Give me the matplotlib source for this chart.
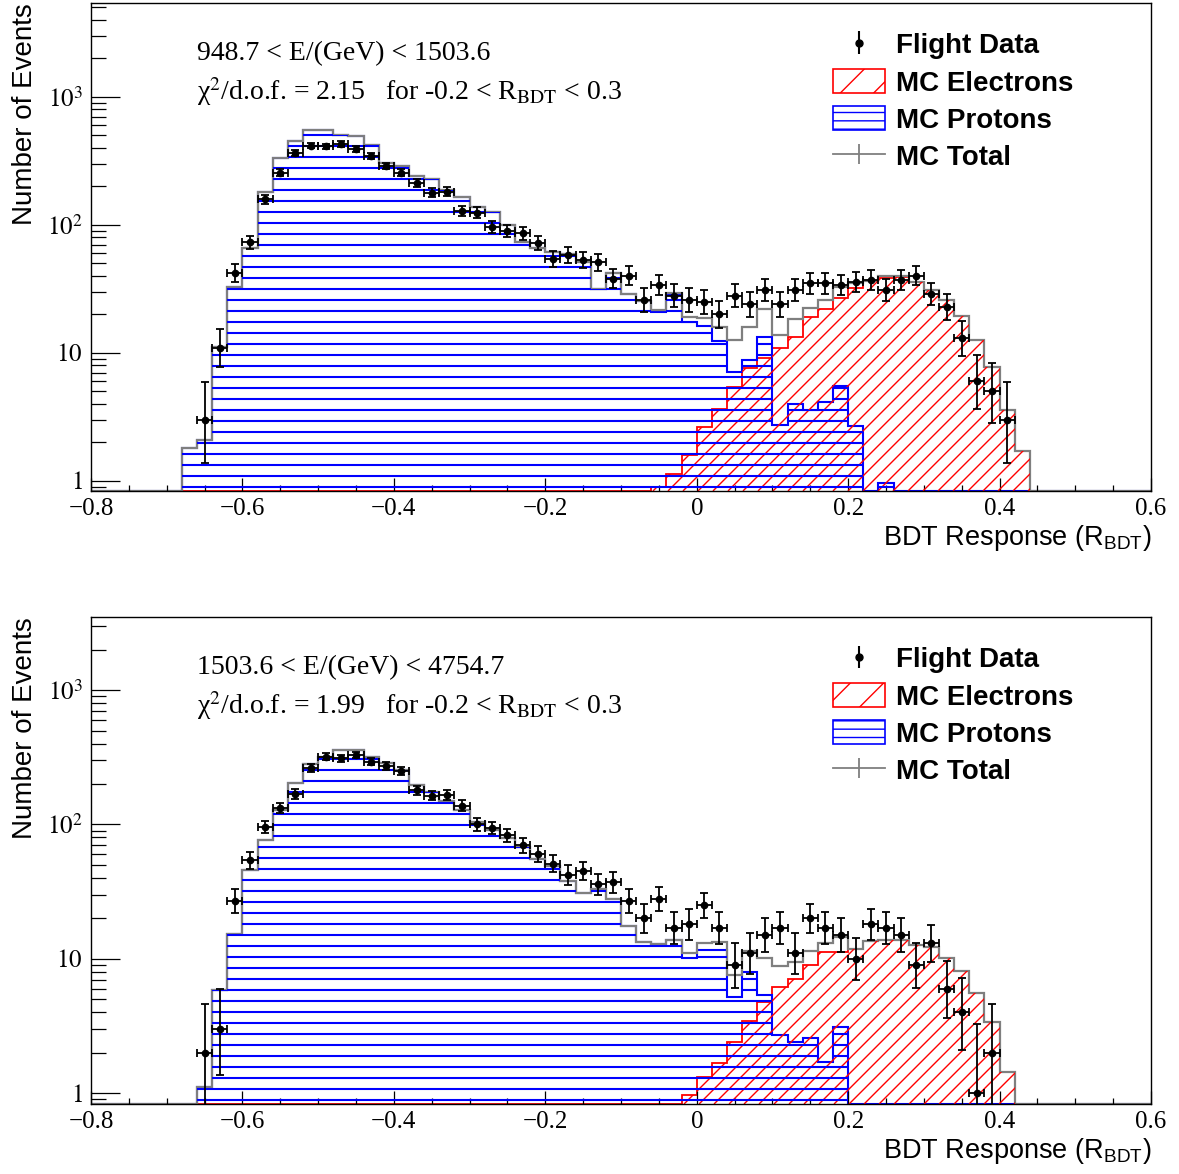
import numpy as np
import matplotlib
matplotlib.use('Agg')
import matplotlib.pyplot as plt
import matplotlib.patches as mpatches
from matplotlib.collections import LineCollection
from matplotlib.legend_handler import HandlerErrorbar
from matplotlib.ticker import FixedLocator, MultipleLocator, LogLocator, FuncFormatter, NullFormatter

plt.rcParams['font.family'] = 'Liberation Sans'
plt.rcParams['mathtext.fontset'] = 'stix'
plt.rcParams['mathtext.rm'] = 'Liberation Sans'
plt.rcParams['mathtext.it'] = 'Liberation Sans:italic'
plt.rcParams['mathtext.bf'] = 'Liberation Sans:bold'

# 70 bins of width 0.02 from -0.8 to 0.6
edges = np.linspace(-0.8, 0.6, 71)
centers = 0.5 * (edges[1:] + edges[:-1])

### top panel: 948.7 < E < 1503.6 GeV
top_total = [0, 0, 0, 0, 0, 0, 1.8, 2.1, 11.2, 33,
             66, 182, 335, 456, 548, 555, 505, 495, 422, 303,
             289, 241, 228, 188, 164, 139, 126, 100, 74, 66,
             61, 59, 51, 31.6, 42, 28.7, 25.6, 21.7, 29.3, 19.0,
             18.7, 15.9, 12.6, 15.9, 22.2, 13.8, 18.5, 22.4, 26, 32.9,
             34.9, 36.5, 40, 40, 35.5, 31.1, 26, 19.5, 12.6, 7.8,
             3.6, 1.72, 0, 0, 0, 0, 0, 0, 0, 0]
top_protons = [0, 0, 0, 0, 0, 0, 1.8, 2.1, 11.2, 33,
               66, 182, 335, 456, 548, 555, 505, 495, 422, 303,
               289, 241, 228, 188, 164, 139, 126, 100, 74, 66,
               61, 59, 51, 31.6, 42, 28.7, 25.6, 20.8, 28.2, 17.4,
               16.1, 12.3, 7.1, 8.8, 13.2, 2.74, 4.0, 3.6, 4.1, 5.5,
               2.7, 0, 0.96, 0, 0, 0, 0, 0, 0, 0,
               0, 0, 0, 0, 0, 0, 0, 0, 0, 0]
top_electrons = [0, 0, 0, 0, 0, 0, 0, 0, 0, 0,
                 0, 0, 0, 0, 0, 0, 0, 0, 0, 0,
                 0, 0, 0, 0, 0, 0, 0, 0, 0, 0,
                 0, 0, 0, 0, 0, 0, 0, 0.89, 1.13, 1.6,
                 2.63, 3.63, 5.46, 7.6, 9.1, 10.9, 13.4, 19.0, 22, 26.7,
                 32, 36.5, 38.3, 39.5, 35.5, 31.1, 26, 19.5, 12.6, 7.8,
                 3.6, 1.72, 0, 0, 0, 0, 0, 0, 0, 0]
top_data = [0, 0, 0, 0, 0, 0, 0, 3, 11, 42,
            73, 159, 256, 367, 417, 410, 427, 392, 346, 289,
            256, 214, 179, 182, 129, 125, 97, 90, 86, 72,
            54, 58, 53, 51, 38, 40, 26, 34, 28, 26,
            25, 20, 28, 24, 31, 24, 31, 35, 35, 34,
            36, 37, 31, 37, 40, 29, 23, 13, 6, 5,
            3, 0, 0, 0, 0, 0, 0, 0, 0, 0]

### bottom panel: 1503.6 < E < 4754.7 GeV
bot_total = [0, 0, 0, 0, 0, 0, 0, 1.11, 5.85, 15.3,
             45.8, 76.5, 128, 205, 282, 319, 358, 358, 319, 285,
             254, 196, 175, 150, 129, 105, 91, 79, 68, 55,
             49, 38, 30.7, 33, 27.7, 17.4, 13.3, 12.9, 13.8, 11.1,
             13.0, 13.3, 7.6, 11.4, 10.2, 8.8, 9.5, 11.5, 13.0, 14.4,
             11.9, 13.6, 13.9, 13.9, 12.7, 12.3, 10.1, 8.13, 5.53, 3.39,
             1.44, 0, 0, 0, 0, 0, 0, 0, 0, 0]
bot_protons = [0, 0, 0, 0, 0, 0, 0, 1.11, 5.85, 15.3,
               45.8, 76.5, 128, 205, 282, 319, 358, 358, 319, 285,
               254, 196, 175, 150, 129, 105, 91, 79, 68, 55,
               49, 38, 30.7, 33, 27.7, 17.4, 13.3, 12.8, 13.8, 10.1,
               11.7, 11.6, 5.2, 8.0, 5.4, 2.7, 2.4, 2.55, 1.71, 3.08,
               0, 0, 0, 0, 0, 0, 0, 0, 0, 0,
               0, 0, 0, 0, 0, 0, 0, 0, 0, 0]
bot_electrons = [0, 0, 0, 0, 0, 0, 0, 0, 0, 0,
                 0, 0, 0, 0, 0, 0, 0, 0, 0, 0,
                 0, 0, 0, 0, 0, 0, 0, 0, 0, 0,
                 0, 0, 0, 0, 0, 0, 0, 0, 0, 0.97,
                 1.32, 1.66, 2.4, 3.45, 4.79, 6.13, 7.03, 8.97, 11.3, 11.3,
                 11.9, 13.6, 13.9, 13.9, 12.7, 12.3, 10.1, 8.13, 5.53, 3.39,
                 1.44, 0, 0, 0, 0, 0, 0, 0, 0, 0]
bot_data = [0, 0, 0, 0, 0, 0, 0, 2, 3, 27,
            54, 96, 133, 168, 264, 319, 311, 329, 293, 272,
            251, 180, 164, 166, 138, 100, 94, 83, 70, 60,
            51, 42, 45, 36, 37, 27, 20, 28, 17, 18,
            25, 17, 9, 11, 15, 17, 11, 20, 17, 15,
            10, 18, 17, 15, 9, 13, 6, 4, 1, 2,
            0, 0, 0, 0, 0, 0, 0, 0, 0, 0]

energy_labels = ['948.7 < E/(GeV) < 1503.6', '1503.6 < E/(GeV) < 4754.7']
chi2_values = ['2.15', '1.99']
ylims = [(0.835, 5420), (0.828, 3500)]


def gehrels(n):
    n = np.asarray(n, float)
    lo = n - n * (1 - 1 / (9 * n) - 1 / (3 * np.sqrt(n))) ** 3
    hi = (n + 1) * (1 - 1 / (9 * (n + 1)) + 1 / (3 * np.sqrt(n + 1))) ** 3 - n
    return lo, hi


fig = plt.figure(figsize=(11.79, 11.74), dpi=100)
ax_top = fig.add_axes([0.0772, 0.5818, 0.8991, 0.4157])
ax_bot = fig.add_axes([0.0772, 0.0596, 0.8991, 0.4148])

red = '#ff0000'
blue = '#0000ff'
grey = '#7f7f7f'


def hist_patch(ax, vals, ymin, color, lw):
    v = np.asarray(vals, float)
    v = np.where(v > 0, v, ymin)
    return ax.stairs(v, edges, baseline=1e-4, fill=True, facecolor='none',
                     edgecolor=color, lw=lw)


def add_hatch(ax, patch, kind, color, lw):
    bb = ax.get_position()
    W = bb.width * fig.get_figwidth() * fig.dpi
    H = bb.height * fig.get_figheight() * fig.dpi
    if kind == 'h':
        segs = [[(0, y), (1, y)] for y in np.arange(4 / H, 1, 11 / H)]
    else:
        r = H / W
        segs = [[(x0, 0), (x0 + r, 1)] for x0 in np.arange(-r, 1, 15 / W)]
    lc = LineCollection(segs, colors=color, linewidths=lw, transform=ax.transAxes)
    lc.set_clip_path(patch)
    ax.add_collection(lc)


panels = [(ax_top, top_total, top_protons, top_electrons, top_data),
          (ax_bot, bot_total, bot_protons, bot_electrons, bot_data)]

for i, (ax, tot, pro, ele, dat) in enumerate(panels):
    ymin, ymax = ylims[i]
    ax.set_yscale('log')
    ax.set_xlim(-0.8, 0.6)
    ax.set_ylim(ymin, ymax)

    pe = hist_patch(ax, ele, ymin, red, 1.3)
    add_hatch(ax, pe, 'd', red, 1.0)
    pp = hist_patch(ax, pro, ymin, blue, 1.5)
    add_hatch(ax, pp, 'h', blue, 1.5)
    t = np.asarray(tot, float)
    ax.stairs(np.where(t > 0, t, ymin), edges, baseline=None, color=grey, lw=1.6)

    d = np.asarray(dat, float)
    m = d > 0
    lo, hi = gehrels(d[m])
    ax.errorbar(centers[m], d[m], xerr=0.01, yerr=[lo, hi], fmt='o', color='k',
                ms=4.5, lw=1.3, capsize=2.6, capthick=1.3, zorder=5)

    # legend handles
    h_data = ax.errorbar([], [], yerr=[], fmt='o', color='k', ms=5, lw=1.5)
    h_el = mpatches.Patch(facecolor='white', edgecolor=red, hatch='/', lw=1.2)
    h_pr = mpatches.Patch(facecolor='white', edgecolor=blue, hatch='--', lw=1.2)
    h_tot = ax.errorbar([], [], yerr=[], fmt='-', color=grey, lw=1.3)
    ax.legend([h_data, h_el, h_pr, h_tot],
              ['Flight Data', 'MC Electrons', 'MC Protons', 'MC Total'],
              handler_map={h_data: HandlerErrorbar(yerr_size=0.4),
                           h_tot: HandlerErrorbar(yerr_size=0.36)},
              loc='upper left', bbox_to_anchor=(0.700, 0.941), frameon=False,
              prop={'family': 'Liberation Sans', 'weight': 'bold', 'size': 20},
              handlelength=1.87, handleheight=0.97, handletextpad=0.4,
              labelspacing=0.34, borderpad=0, borderaxespad=0)

    ax.text(0.100, 0.883, energy_labels[i], transform=ax.transAxes,
            family='Liberation Serif', fontsize=20, va='baseline')
    ax.text(0.100, 0.801,
            '\u03c7' + r'$^{2}$/d.o.f. = ' + chi2_values[i] + r'   for -0.2 < R$_{\mathrm{BDT}}$ < 0.3',
            transform=ax.transAxes, family='Liberation Serif', fontsize=20,
            va='baseline')

    ax.text(-0.062, 1.0, 'Number of Events', transform=ax.transAxes,
            rotation=90, ha='center', va='top', fontsize=20)
    ax.text(1.0, -0.065, r'BDT Response (R$_{\mathrm{BDT}}$)', transform=ax.transAxes,
            ha='right', va='top', fontsize=19.5, math_fontfamily='custom')

    # ROOT-like axes
    ax.xaxis.set_major_locator(FixedLocator([-0.8, -0.6, -0.4, -0.2, 0, 0.2, 0.4, 0.6]))
    ax.xaxis.set_minor_locator(MultipleLocator(0.05))
    ax.xaxis.set_major_formatter(FuncFormatter(
        lambda v, p: '0' if abs(v) < 1e-9 else f'{v:.1f}'.replace('-', '\u2212')))
    ax.yaxis.set_major_locator(FixedLocator([1, 10, 100, 1000]))
    ax.yaxis.set_minor_locator(LogLocator(base=10, subs=np.arange(2, 10), numticks=20))
    ax.yaxis.set_minor_formatter(NullFormatter())
    ylab = {1: r'$1$', 10: r'$10$', 100: r'$10^{2}$', 1000: r'$10^{3}$'}
    ax.yaxis.set_major_formatter(FuncFormatter(lambda v, p: ylab.get(int(round(v)), '')))
    ax.tick_params(axis='both', which='both', direction='in', top=False, right=False,
                   labelsize=18, labelfontfamily='Liberation Serif', width=0.9)
    ax.tick_params(axis='x', which='major', length=9.5, pad=5)
    ax.tick_params(axis='x', which='minor', length=4.5)
    ax.tick_params(axis='y', which='major', length=21, pad=6)
    ax.tick_params(axis='y', which='minor', length=11)
    for s in ax.spines.values():
        s.set_linewidth(1.0)

fig.savefig('out.png', dpi=100)
